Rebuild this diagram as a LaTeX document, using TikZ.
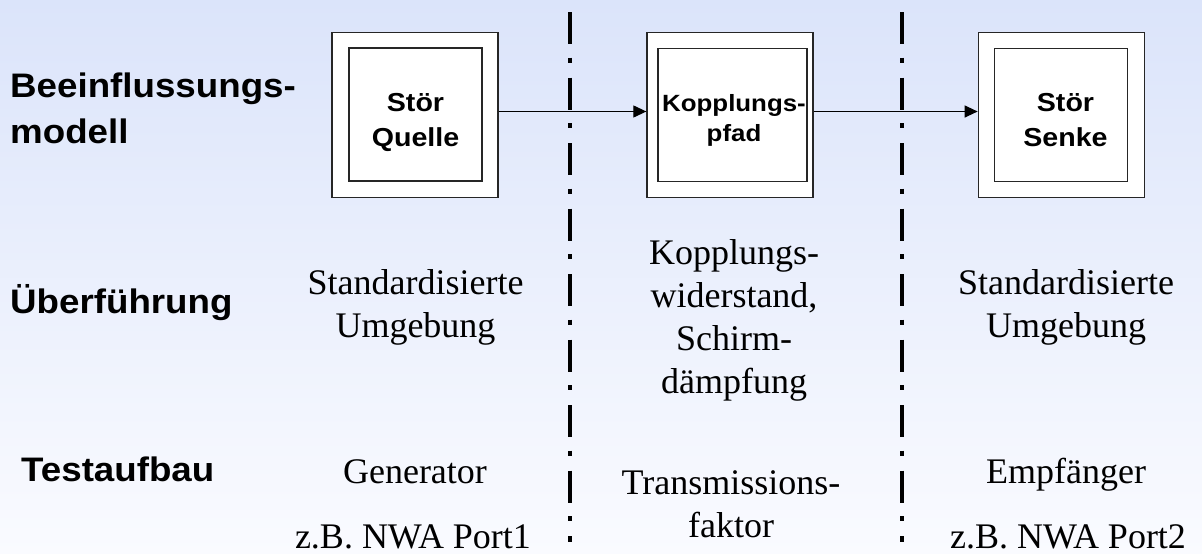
\documentclass[tikz,border=0pt]{standalone}
\usepackage{fontspec}
\setmainfont{Liberation Serif}
\newfontfamily\labelfont{Liberation Sans}[FakeStretch=1.1]
\newfontfamily\rowfont{Liberation Sans}[FakeStretch=1.08]
\usetikzlibrary{
  arrows.meta,
  positioning
}
\definecolor{bgtop}{RGB}{219,228,250}
\definecolor{bgbottom}{RGB}{250,251,255}

\begin{document}
\begin{tikzpicture}[x=1pt, y=1pt,
    every node/.style = {inner sep=0pt, align=center},
    rowlabel/.style = {anchor=base west, align=left,
      font=\rowfont\bfseries\fontsize{34}{46}\selectfont},
    envtext/.style = {anchor=base, font=\fontsize{36}{43}\selectfont},
    outerbox/.style = {draw=black!85, line width=1.3pt, fill=white,
      minimum width=166pt, minimum height=165pt},
    innerbox/.style = {draw=black!85, line width=1.3pt, fill=white,
      minimum width=133pt, minimum height=133pt},
    boxtext/.style = {anchor=base,
      font=\labelfont\bfseries\fontsize{26}{35.7}\selectfont},
    separator/.style = {line width=4.6pt,
      dash pattern=on 32pt off 13.5pt on 5pt off 15pt},
    flow/.style = {-{Triangle[length=13pt,width=12pt]}, line width=1.2pt}]
  % background
  \shade[top color=bgtop, bottom color=bgbottom] (0,0) rectangle (1202,-554);
  % row labels
  \node[rowlabel] (modell) at (10,-143.3) {Beeinflussungs-\\modell};
  \node[rowlabel] (ueberf) at (10,-313) {Überführung};
  \node[rowlabel] (test) at (21,-481) {Testaufbau};
  % separators
  \coordinate (sep1-top) at (570,-12);
  \coordinate (sep1-bot) at (570,-542);
  \coordinate (sep2-top) at (902,-12);
  \coordinate (sep2-bot) at (902,-542);
  \draw[separator] (sep1-top) -- (sep1-bot);
  \draw[separator] (sep2-top) -- (sep2-bot);
  % blocks
  \node[outerbox] (quelle) at (415,-114.8) {};
  \node[innerbox] (quelle-in) at (415.5,-114.6) {};
  \node[boxtext] (quelle-txt) at (415.5,-146.7) {Stör\\Quelle};
  \node[outerbox] (pfad) at (730,-114.8) {};
  \node[innerbox, minimum width=149pt] (pfad-in) at (732.5,-115) {};
  \node[boxtext, font=\labelfont\bfseries\fontsize{23.5}{29.3}\selectfont]
    (pfad-txt) at (734,-141) {Kopplungs-\\pfad};
  \node[outerbox] (senke) at (1061.3,-114.8) {};
  \node[innerbox] (senke-in) at (1061.3,-114.8) {};
  \node[boxtext] (senke-txt) at (1065.5,-146.7) {Stör\\Senke};
  \draw[flow] ([yshift=3.3pt]quelle.east) -- ([yshift=3.3pt]pfad.west);
  \draw[flow] ([yshift=3.3pt]pfad.east) -- ([yshift=3.3pt]senke.west);
  % middle row
  \node[envtext] (umg1) at (415.5,-337.3) {Standardisierte\\Umgebung};
  \node[envtext] (kopp) at (734,-393) {Kopplungs-\\widerstand,\\Schirm-\\dämpfung};
  \node[envtext] (umg2) at (1066,-337.3) {Standardisierte\\Umgebung};
  % bottom row
  \node[envtext] (gen) at (415,-483) {Generator};
  \node[envtext] (port1) at (413,-548) {z.B. NWA Port1};
  \node[envtext] (trans) at (731,-537) {Transmissions-\\faktor};
  \node[envtext] (empf) at (1066,-483) {Empfänger};
  \node[envtext] (port2) at (1068,-548) {z.B. NWA Port2};
\end{tikzpicture}
\end{document}
